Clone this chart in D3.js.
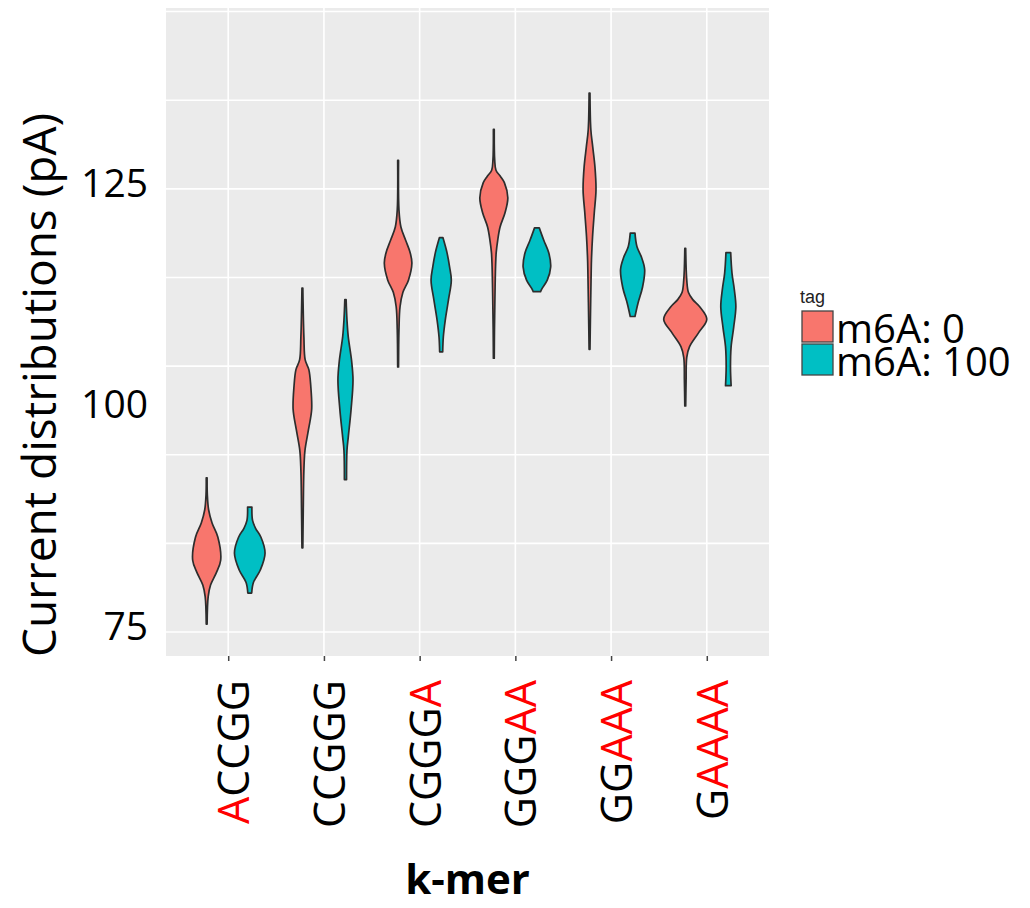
<!DOCTYPE html>
<html>
<head>
<meta charset="utf-8">
<script src="https://cdn.jsdelivr.net/npm/d3@7"></script>
<style>
  body { margin: 0; background: #fff; }
</style>
</head>
<body>
<div class="chart"></div>
<script>
const kmers = ["ACCGG", "CCGGG", "CGGGA", "GGGAA", "GGAAA", "GAAAA"];
const tags = ["m6A: 0", "m6A: 100"];
const yTickValues = [75, 100, 125];
const gridValues = [75, 85, 95, 105, 115, 125, 135, 145];

// violin outlines: [current (pA), relative density]
const ACCGG_0 = [[92.4, .02], [90.5, .03], [88.8, .09], [87.3, .25], [85.7, .52], [83.1, .65], [81.7, .45], [80.3, .18], [79.0, .07], [75.9, .02]];
const ACCGG_100 = [[89.1, .10], [87.6, .13], [86.7, .27], [85.7, .52], [83.9, .71], [82.0, .49], [80.6, .17], [79.4, .09]];
const CCGGG_0 = [[113.8, .02], [108.3, .07], [105.7, .13], [104.6, .30], [102.7, .39], [100.1, .43], [97.8, .28], [95.5, .12], [93.3, .07], [88.8, .04], [84.5, .02]];
const CCGGG_100 = [[112.5, .03], [110.2, .07], [108.3, .13], [105.7, .28], [103.4, .35], [100.1, .26], [97.0, .13], [95.5, .07], [92.2, .05]];
const CGGGA_0 = [[128.2, .02], [122.6, .04], [120.7, .13], [119.2, .35], [117.8, .56], [116.6, .64], [114.7, .48], [113.3, .22], [111.7, .09], [109.1, .04], [104.9, .02]];
const CGGGA_100 = [[119.5, .08], [117.8, .27], [116.2, .39], [114.7, .47], [112.5, .34], [110.2, .19], [108.3, .10], [106.6, .07]];
const GGGAA_0 = [[131.7, .02], [128.3, .04], [127.1, .10], [126.4, .31], [125.7, .49], [124.0, .65], [122.3, .52], [120.7, .29], [119.2, .18], [117.8, .11], [116.2, .08], [112.5, .05], [109.1, .03], [105.9, .02]];
const GGGAA_100 = [[120.6, .11], [119.2, .32], [117.8, .55], [116.2, .64], [114.7, .48], [113.8, .25], [113.4, .17]];
const GGAAA_0 = [[135.8, .02], [131.7, .06], [129.7, .15], [127.5, .25], [124.9, .30], [122.3, .22], [119.6, .14], [117.0, .09], [114.7, .07], [110.2, .04], [106.9, .02]];
const GGAAA_100 = [[120.0, .11], [118.5, .20], [117.3, .41], [115.9, .56], [113.9, .46], [112.1, .25], [110.6, .11]];
const GAAAA_0 = [[118.3, .02], [114.7, .07], [113.3, .15], [112.5, .35], [111.7, .67], [110.3, 1.0], [108.7, .60], [107.2, .20], [106.0, .07], [103.4, .04], [100.5, .02]];
const GAAAA_100 = [[117.8, .11], [115.5, .17], [113.6, .28], [111.7, .35], [109.4, .25], [107.2, .13], [104.9, .10], [102.8, .13]];

const violins = [
    {kmer: "ACCGG", tag: "m6A: 0", profile: ACCGG_0},
    {kmer: "ACCGG", tag: "m6A: 100", profile: ACCGG_100},
    {kmer: "CCGGG", tag: "m6A: 0", profile: CCGGG_0},
    {kmer: "CCGGG", tag: "m6A: 100", profile: CCGGG_100},
    {kmer: "CGGGA", tag: "m6A: 0", profile: CGGGA_0},
    {kmer: "CGGGA", tag: "m6A: 100", profile: CGGGA_100},
    {kmer: "GGGAA", tag: "m6A: 0", profile: GGGAA_0},
    {kmer: "GGGAA", tag: "m6A: 100", profile: GGGAA_100},
    {kmer: "GGAAA", tag: "m6A: 0", profile: GGAAA_0},
    {kmer: "GGAAA", tag: "m6A: 100", profile: GGAAA_100},
    {kmer: "GAAAA", tag: "m6A: 0", profile: GAAAA_0},
    {kmer: "GAAAA", tag: "m6A: 100", profile: GAAAA_100}
];

const width = 1030, height = 908;
const panel = {left: 166, right: 769, top: 8, bottom: 656};

const svg = d3.select(".chart").append("svg")
    .attr("width", width)
    .attr("height", height);

const xScale = d3.scalePoint()
    .domain(kmers)
    .range([panel.left, panel.right])
    .padding(0.65);

const dodge = d3.scalePoint()
    .domain(tags)
    .range([-0.225 * xScale.step(), 0.225 * xScale.step()]);

const yScale = d3.scaleLinear()
    .domain([72.3, 145.4])
    .range([panel.bottom, panel.top]);

const wScale = d3.scaleLinear()
    .domain([0, 1])
    .range([0, 0.225 * xScale.step()]);

const color = d3.scaleOrdinal()
    .domain(tags)
    .range(["#F8766D", "#00BFC4"]);

// panel background + grid
svg.append("rect")
    .attr("x", panel.left)
    .attr("y", panel.top)
    .attr("width", panel.right - panel.left)
    .attr("height", panel.bottom - panel.top)
    .attr("fill", "#EBEBEB");

svg.append("g")
    .attr("stroke", "#fff")
    .attr("stroke-width", 1.6)
    .selectAll("line")
    .data(gridValues)
    .join("line")
    .attr("x1", panel.left)
    .attr("x2", panel.right)
    .attr("y1", d => yScale(d))
    .attr("y2", d => yScale(d));

svg.append("g")
    .attr("stroke", "#fff")
    .attr("stroke-width", 1.6)
    .selectAll("line")
    .data(kmers)
    .join("line")
    .attr("x1", d => xScale(d))
    .attr("x2", d => xScale(d))
    .attr("y1", panel.top)
    .attr("y2", panel.bottom);

// violins
svg.append("g")
    .attr("stroke", "#2d2d2d")
    .attr("stroke-width", 1.7)
    .attr("stroke-linejoin", "round")
    .selectAll("path")
    .data(violins)
    .join("path")
    .attr("fill", d => color(d.tag))
    .attr("d", d => {
        const cx = xScale(d.kmer) + dodge(d.tag);
        return d3.area()
            .curve(d3.curveCatmullRom)
            .y(p => yScale(p[0]))
            .x0(p => cx - wScale(p[1]))
            .x1(p => cx + wScale(p[1]))(d.profile);
    });

// x axis ticks
svg.append("g")
    .attr("transform", `translate(0, ${panel.bottom})`)
    .call(d3.axisBottom(xScale).tickSize(5).tickFormat(""))
    .call(g => g.select(".domain").remove())
    .selectAll(".tick line")
    .attr("stroke", "#444")
    .attr("stroke-width", 1.5);

// x labels, the A's in red
const xLabels = svg.append("g")
    .attr("font-family", "'Open Sans', sans-serif")
    .attr("font-size", 43)
    .selectAll("text")
    .data(kmers)
    .join("text")
    .attr("text-anchor", "end")
    .attr("transform", d => `translate(${xScale(d) + 21}, 680) rotate(-90)`);

xLabels.selectAll("tspan")
    .data(d => d.split(""))
    .join("tspan")
    .attr("fill", c => c === "A" ? "#FF0000" : "#000")
    .text(c => c);

// y axis labels
svg.append("g")
    .attr("transform", `translate(${panel.left}, -5)`)
    .call(d3.axisLeft(yScale).tickValues(yTickValues).tickSize(0).tickPadding(18))
    .call(g => g.select(".domain").remove())
    .selectAll("text")
    .attr("font-family", "'Open Sans', sans-serif")
    .attr("font-size", 39)
    .attr("fill", "#000");

// axis titles
svg.append("text")
    .attr("transform", "translate(56, 385) rotate(-90)")
    .attr("text-anchor", "middle")
    .attr("font-family", "'Open Sans', sans-serif")
    .attr("font-size", 46)
    .text("Current distributions (pA)");

svg.append("text")
    .attr("x", (panel.left + panel.right) / 2)
    .attr("y", 894)
    .attr("text-anchor", "middle")
    .attr("font-family", "'Open Sans', sans-serif")
    .attr("font-weight", "bold")
    .attr("font-size", 42)
    .text("k-mer");

// legend
const legY = d3.scaleBand()
    .domain(tags)
    .range([311, 377]);

svg.append("text")
    .attr("x", 800)
    .attr("y", 303)
    .attr("font-family", "'Liberation Sans', Arial, sans-serif")
    .attr("font-size", 18)
    .attr("fill", "#222")
    .text("tag");

const legend = svg.append("g")
    .selectAll("g")
    .data(tags)
    .join("g")
    .attr("transform", d => `translate(802, ${legY(d)})`);

legend.append("rect")
    .attr("width", 31)
    .attr("height", 31)
    .attr("fill", d => color(d))
    .attr("stroke", "#444")
    .attr("stroke-width", 1.3);

legend.append("text")
    .attr("x", 34)
    .attr("y", 32)
    .attr("font-family", "'Open Sans', sans-serif")
    .attr("font-size", 40)
    .text(d => d);
</script>
</body>
</html>
